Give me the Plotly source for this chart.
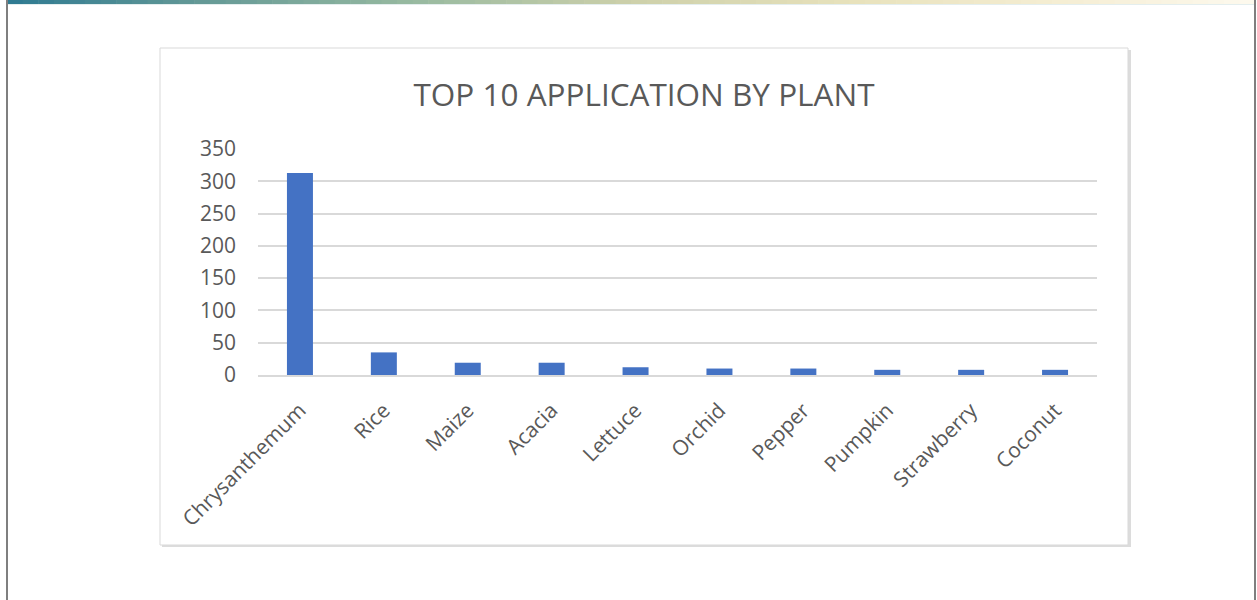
import plotly.graph_objects as go

# ---- data ----
plants = ["Chrysanthemum", "Rice", "Maize", "Acacia", "Lettuce",
          "Orchid", "Pepper", "Pumpkin", "Strawberry", "Coconut"]
applications = [313, 35, 19, 19, 12, 10, 10, 8, 8, 8]
y_ticks = [0, 50, 100, 150, 200, 250, 300, 350]
title_text = "TOP 10 APPLICATION BY PLANT"

W, H = 1257, 600
FONT = "Open Sans"
GRAY = "#595959"

fig = go.Figure()
fig.add_trace(go.Bar(
    x=plants, y=applications,
    marker=dict(color="#4472C4", line=dict(width=0)),
    width=0.31, hoverinfo="x+y",
))

def px(x):
    return x / W

def py(y):
    return 1 - y / H

shapes = []
# top gradient band
stops = [(0.0, (46, 122, 146)), (0.15, (98, 152, 150)), (0.32, (150, 185, 160)),
         (0.5, (205, 208, 170)), (0.68, (232, 226, 188)), (0.85, (245, 238, 212)),
         (1.0, (253, 249, 238))]

def interp(t):
    for (t0, c0), (t1, c1) in zip(stops[:-1], stops[1:]):
        if t0 <= t <= t1:
            f = (t - t0) / (t1 - t0) if t1 > t0 else 0
            return tuple(int(round(a + (b - a) * f)) for a, b in zip(c0, c1))
    return stops[-1][1]

N = 80
x0b, x1b = 7, 1255
for i in range(N):
    a = x0b + (x1b - x0b) * i / N
    b = x0b + (x1b - x0b) * (i + 1) / N + 0.6
    c = interp((i + 0.5) / N)
    shapes.append(dict(type="rect", xref="paper", yref="paper",
                       x0=px(a), x1=px(b), y0=py(4), y1=py(0),
                       fillcolor="rgb(%d,%d,%d)" % c, line=dict(width=0), layer="below"))
shapes.append(dict(type="line", xref="paper", yref="paper",
                   x0=px(7), x1=px(1255), y0=py(4.5), y1=py(4.5),
                   line=dict(color="#e4eeee", width=1)))
# outer frame side lines
shapes.append(dict(type="line", xref="paper", yref="paper",
                   x0=px(7), x1=px(7), y0=0, y1=1, line=dict(color="#7f7f7f", width=2)))
shapes.append(dict(type="line", xref="paper", yref="paper",
                   x0=px(1255), x1=px(1255), y0=0, y1=1, line=dict(color="#7f7f7f", width=2)))
# chart box shadow + box
shapes.append(dict(type="rect", xref="paper", yref="paper",
                   x0=px(162), x1=px(1131), y0=py(547), y1=py(50),
                   fillcolor="#dcdcdc", line=dict(width=0), layer="below"))
shapes.append(dict(type="rect", xref="paper", yref="paper",
                   x0=px(160), x1=px(1128), y0=py(545), y1=py(48),
                   fillcolor="white", line=dict(color="#d9d9d9", width=1), layer="below"))

fig.update_layout(
    width=W, height=H,
    margin=dict(l=0, r=0, t=0, b=0, pad=0, autoexpand=False),
    paper_bgcolor="white", plot_bgcolor="rgba(0,0,0,0)",
    showlegend=False,
    shapes=shapes,
    font=dict(family=FONT, color=GRAY),
    title=dict(text=title_text, x=644 / W, xanchor="center",
               y=py(95), yanchor="middle", xref="container", yref="container",
               automargin=False,
               font=dict(family=FONT, size=31.5, color=GRAY)),
    xaxis=dict(domain=[px(258), px(1097)], tickangle=-45, automargin=False,
               tickfont=dict(family=FONT, size=21, color=GRAY),
               showgrid=False, showline=True, linecolor="#d9d9d9", linewidth=1.5,
               ticks="", ticklabelstandoff=13, fixedrange=True),
    yaxis=dict(domain=[py(375), py(149)], range=[0, 350], tickvals=y_ticks,
               automargin=False,
               tickfont=dict(family=FONT, size=21, color=GRAY),
               showgrid=True, gridcolor="#d9d9d9", gridwidth=1.5,
               zeroline=False, showline=False, ticks="", ticklabelstandoff=21,
               fixedrange=True),
)

fig.write_html("out.html")
